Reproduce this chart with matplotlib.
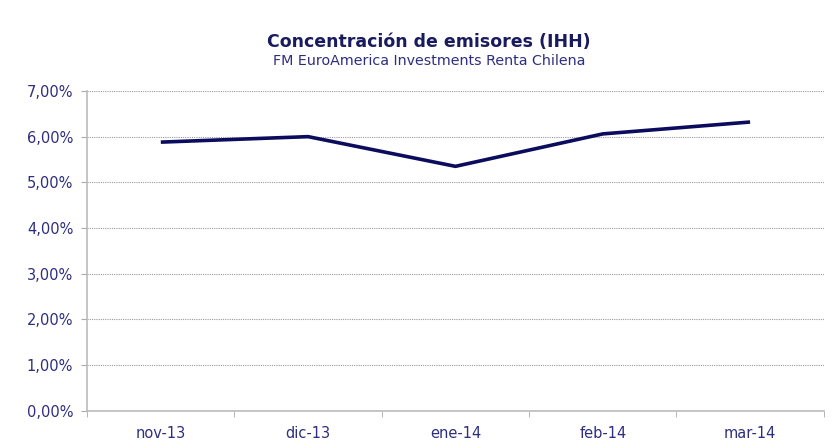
import matplotlib.pyplot as plt
from matplotlib.ticker import FuncFormatter, MultipleLocator
import numpy as np

months = ['nov-13', 'dic-13', 'ene-14', 'feb-14', 'mar-14']
ihh = [5.88, 6.00, 5.35, 6.06, 6.32]

text_color = '#2e2e80'
line_color = '#0c0c5e'

fig = plt.figure(figsize=(8.38, 4.48), dpi=100)
ax = fig.add_axes([0.104, 0.083, 0.879, 0.714])

x = np.arange(len(months))
ax.plot(x, ihh, color=line_color, linewidth=2.6, solid_capstyle='butt')

ax.set_xlim(-0.5, len(months) - 0.5)
ax.set_ylim(0, 7)
ax.yaxis.set_major_locator(MultipleLocator(1))
ax.yaxis.set_major_formatter(FuncFormatter(lambda v, p: f'{v:.2f}%'.replace('.', ',')))
ax.grid(axis='y', color='#9a9a9a', linestyle=(0, (1, 1)), linewidth=0.8)
ax.set_axisbelow(True)

ax.set_xticks(x)
ax.set_xticklabels(months)
ax.set_xticks(np.arange(len(months) + 1) - 0.5, minor=True)
ax.tick_params(axis='x', which='major', length=0, pad=11, labelsize=10.5, labelcolor=text_color)
ax.tick_params(axis='x', which='minor', length=4, color='#aaaaaa')
ax.tick_params(axis='y', length=4, color='#aaaaaa', labelsize=10.5, labelcolor=text_color, pad=6)

for s in ['top', 'right']:
    ax.spines[s].set_visible(False)
for s in ['left', 'bottom']:
    ax.spines[s].set_color('#bbbbbb')
    ax.spines[s].set_linewidth(1.2)

fig.text(0.512, 0.906, 'Concentración de emisores (IHH)', ha='center', va='center',
         fontsize=12.5, fontweight='bold', color='#1a1a5e')
fig.text(0.512, 0.864, 'FM EuroAmerica Investments Renta Chilena', ha='center', va='center',
         fontsize=10.3, color=text_color)

fig.savefig('out.png', dpi=100)
